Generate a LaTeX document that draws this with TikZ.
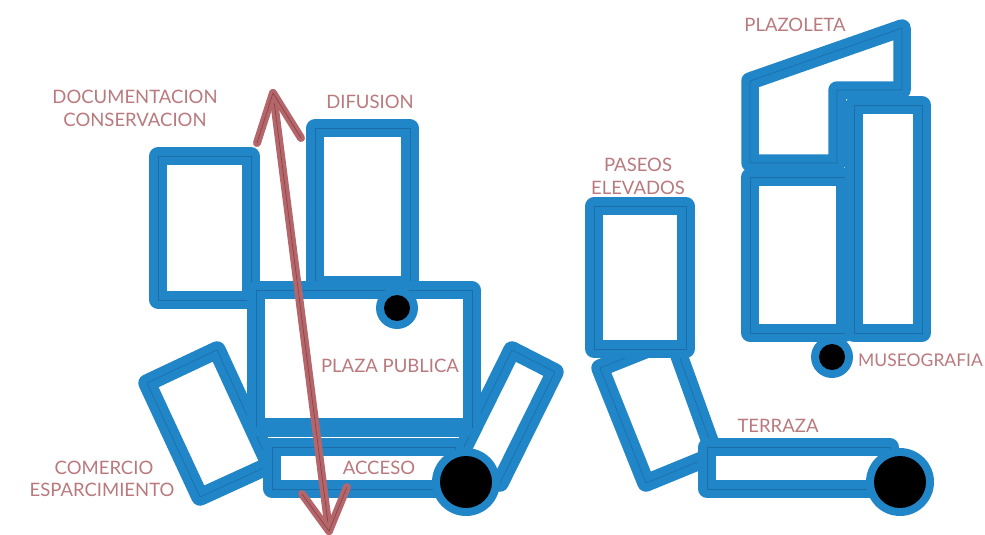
\documentclass[tikz,border=0pt]{standalone}
\usepackage{fontspec}
\setmainfont{Lato}
\definecolor{wallblue}{HTML}{2186C8}
\definecolor{walldark}{HTML}{1C6DA6}
\definecolor{labelrose}{HTML}{B9797D}
\definecolor{arrowrose}{HTML}{B5666A}
\definecolor{arrowdark}{HTML}{8A4448}
\tikzset{
  wall/.style={preaction={draw=wallblue,line width=17.5pt,line join=round},draw=walldark,line width=0.6pt},
  sense/.style={preaction={draw=arrowrose,line width=8pt,line cap=round,line join=round},draw=arrowdark,line width=0.7pt},
  lab/.style={text=labelrose,font=\fontsize{18.5}{18.5}\selectfont,inner sep=0pt}
}
\newcommand\hub[3]{\fill[wallblue] (#1,#2) circle (#3pt+8pt); \fill[black] (#1,#2) circle (#3pt);}
\begin{document}
\begin{tikzpicture}[x=1pt,y=-1pt]
  \useasboundingbox (0,0) rectangle (985,535);
  % left group
  \draw[wall] (147,383) -- (217,350) -- (270,465) -- (200,497) -- cycle;
  \draw[wall] (512,350) -- (555,372) -- (500,483) -- (457,461) -- cycle;
  \draw[wall] (158,156) rectangle (251,300);
  \draw[wall] (315,128) rectangle (410,285);
  \draw[wall] (256,290) rectangle (472,427);
  \fill[wallblue] (256,427) -- (472,427) -- (455,447) -- (272,447) -- cycle;
  \draw[wall] (272,447) rectangle (455,489);
  \draw[white,line width=1pt] (268,437) -- (459,437);
  \hub{397}{308}{13}
  \hub{466}{482}{26}
  % right group
  \draw[wall] (645,350) -- (600,368) -- (646,483) -- (707,458);
  \draw[wall] (677,350) -- (712,447);
  \draw[wall] (594,206) rectangle (686,349);
  \draw[wall] (707,447) rectangle (890,489);
  \hub{900}{482}{26}
  \draw[wall] (750,81) -- (902,28) -- (902,90) -- (837,90) -- (837,163) -- (750,163) -- cycle;
  \draw[wall] (750,177) rectangle (845,333);
  \draw[wall] (854,105) rectangle (922,333);
  \hub{832}{357}{13}
  % double arrow
  \coordinate (tiptop) at (273,93);
  \coordinate (tipbot) at (329,531);
  \coordinate (barbtl) at (257,143);
  \coordinate (barbtr) at (301,138);
  \coordinate (barbbl) at (302,494);
  \coordinate (barbbr) at (347,487);
  \draw[sense] (tiptop) -- (tipbot);
  \draw[sense] (barbtl) -- (tiptop) -- (barbtr);
  \draw[sense] (barbbl) -- (tipbot) -- (barbbr);
  % labels
  \node[lab] (docu) at (135,97) {DOCUMENTACION};
  \node[lab] (cons) at (135,120) {CONSERVACION};
  \node[lab] (difu) at (370,102) {DIFUSION};
  \node[lab] (plaza) at (390,366) {PLAZA PUBLICA};
  \node[lab] (acceso) at (379,468) {ACCESO};
  \node[lab] (come) at (104,468) {COMERCIO};
  \node[lab] (espa) at (102,490) {ESPARCIMIENTO};
  \node[lab] (pase) at (638,165) {PASEOS};
  \node[lab] (elev) at (638,188) {ELEVADOS};
  \node[lab] (plazo) at (795,25) {PLAZOLETA};
  \node[lab,font=\fontsize{17.5}{17.5}\selectfont,anchor=west] (muse) at (858,360) {MUSEOGRAFIA};
  \node[lab] (terr) at (778,426) {TERRAZA};
\end{tikzpicture}
\end{document}
